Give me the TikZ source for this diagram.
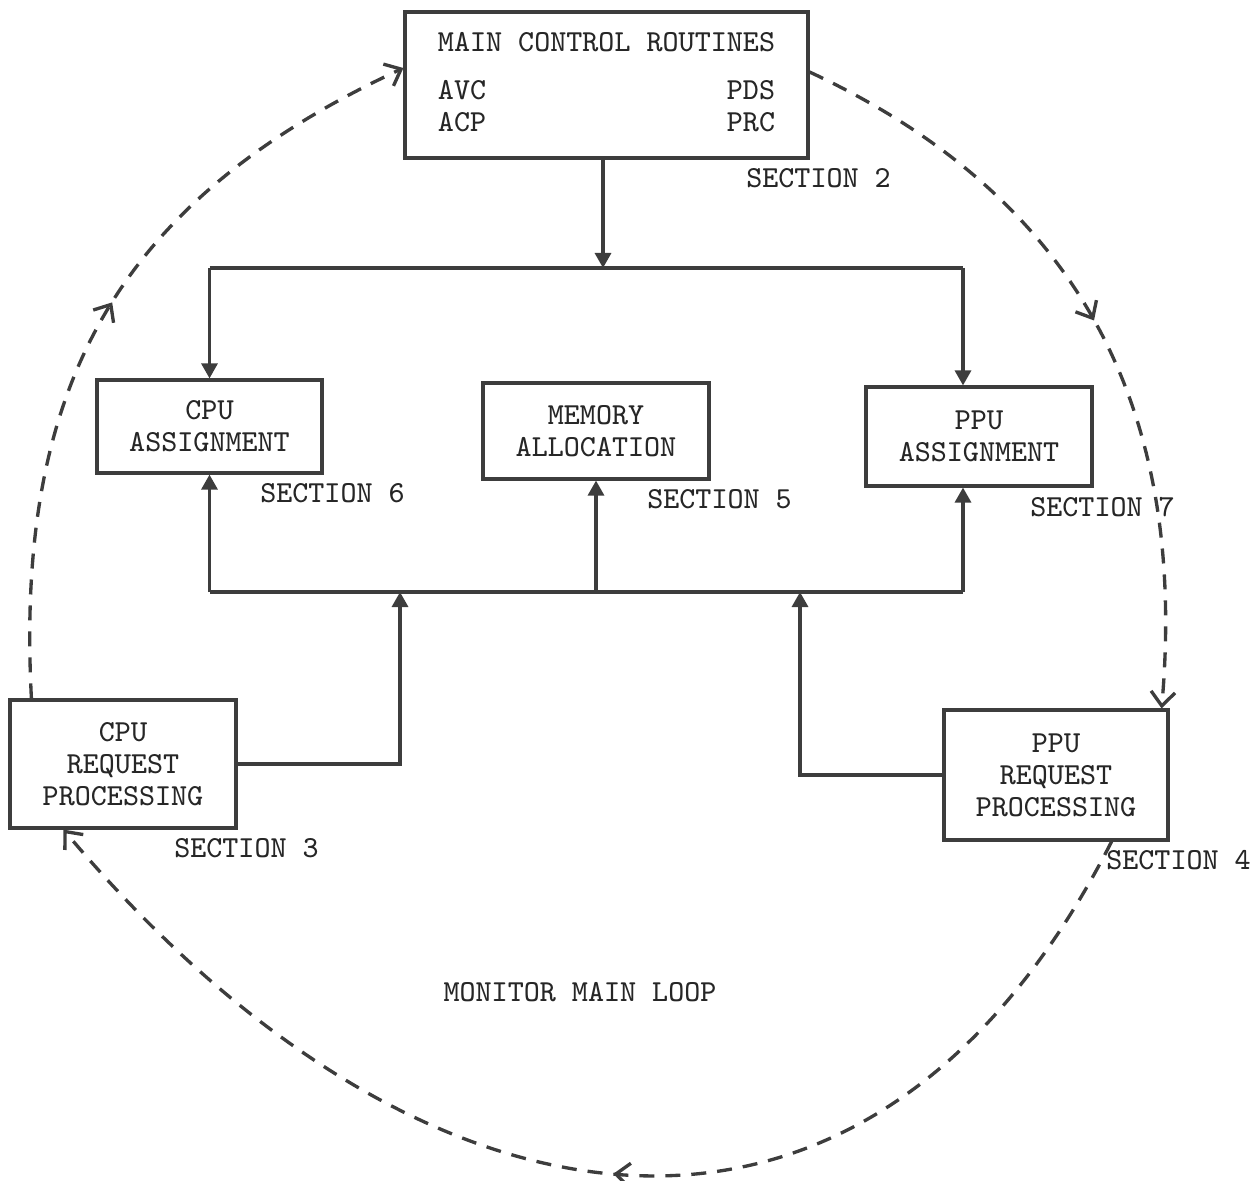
\documentclass[tikz,border=0pt]{standalone}
\usetikzlibrary{arrows.meta,decorations.markings}
\colorlet{ink}{black!76}
\colorlet{type}{black!85}

\begin{document}
\begin{tikzpicture}[
  font=\fontsize{8.7}{9.1}\selectfont\ttfamily,
  every node/.style={text=type},
  unit/.style={draw=ink, line width=0.9pt, align=center, inner sep=0pt},
  sec/.style={anchor=west, inner sep=0pt},
  bus/.style={draw=ink, line width=0.9pt},
  link/.style={bus, -{Triangle[length=1.5mm,width=1.6mm]}},
  mainloop/.style={draw=ink, line width=0.95pt, dash pattern=on 1.5mm off 1.1mm,
    -{Straight Barb[length=1.4mm,width=2.4mm]}},
  midarrow/.style={postaction={decorate}, decoration={markings,
    mark=at position #1 with {\arrow{Straight Barb[length=1.4mm,width=2.4mm]}}}}
]
  \useasboundingbox (0,0) rectangle (12.53,-11.81);

  % boxes
  \node[unit, minimum width=4.03cm, minimum height=1.46cm] (main) at (6.065,-0.85)
    {\begin{tabular}{@{}l@{}r@{}}
      \multicolumn{2}{@{}c@{}}{MAIN CONTROL ROUTINES}\\[1.6mm]
      AVC & PDS\\
      ACP & PRC
    \end{tabular}};
  \node[unit, minimum width=2.25cm, minimum height=0.93cm] (cpuasg) at (2.095,-4.265) {CPU\\ASSIGNMENT};
  \node[unit, minimum width=2.26cm, minimum height=0.96cm] (mem) at (5.96,-4.31) {MEMORY\\ALLOCATION};
  \node[unit, minimum width=2.26cm, minimum height=0.99cm] (ppuasg) at (9.79,-4.365) {PPU\\ASSIGNMENT};
  \node[unit, minimum width=2.26cm, minimum height=1.28cm] (cpureq) at (1.23,-7.64) {CPU\\REQUEST\\PROCESSING};
  \node[unit, minimum width=2.24cm, minimum height=1.30cm] (ppureq) at (10.56,-7.75) {PPU\\REQUEST\\PROCESSING};

  \foreach \b/\n in {main/2, cpuasg/6, mem/5, ppuasg/7, cpureq/3, ppureq/4}
    \node[sec] (sec\n) at ([shift={(-0.64,-0.19)}]\b.south east) {SECTION \n};

  \node (monitor) at (5.80,-9.92) {MONITOR MAIN LOOP};

  % buses
  \coordinate (top) at (6.03,-2.68);
  \coordinate (bot) at (5.98,-5.92);
  \coordinate (pa) at ([xshift=-1.6mm]ppuasg.north);
  \coordinate (pb) at ([xshift=-1.6mm]ppuasg.south);
  \coordinate (cjoin) at (4.00,-5.92);
  \coordinate (pjoin) at (8.00,-5.92);

  \draw[link] (top |- main.south) -- (top);
  \draw[bus] (cpuasg.north |- top) -- (pa |- top);
  \draw[link] (cpuasg.north |- top) -- (cpuasg.north);
  \draw[link] (pa |- top) -- (pa);

  \draw[bus] (cpuasg.south |- bot) -- (pb |- bot);
  \draw[link] (cpuasg.south |- bot) -- (cpuasg.south);
  \draw[link] (mem.south |- bot) -- (mem.south);
  \draw[link] (pb |- bot) -- (pb);
  \draw[link] (cpureq.east) -| (cjoin);
  \draw[link] (ppureq.west) -| (pjoin);

  % dashed loop
  \draw[mainloop, midarrow=0.52] ([xshift=2.3mm]cpureq.north west)
    to[out=93, in=205, looseness=1.1] ([yshift=1.7mm]main.west);
  \draw[mainloop, midarrow=0.49] ([yshift=1.3mm]main.east)
    to[out=-25, in=85, looseness=1.05] ([xshift=-0.8mm]ppureq.north east);
  \draw[mainloop, midarrow=0.49] ([xshift=-5.8mm]ppureq.south east)
    to[out=-117, in=-50, looseness=1.33] ([xshift=5.5mm]cpureq.south west);
\end{tikzpicture}
\end{document}
